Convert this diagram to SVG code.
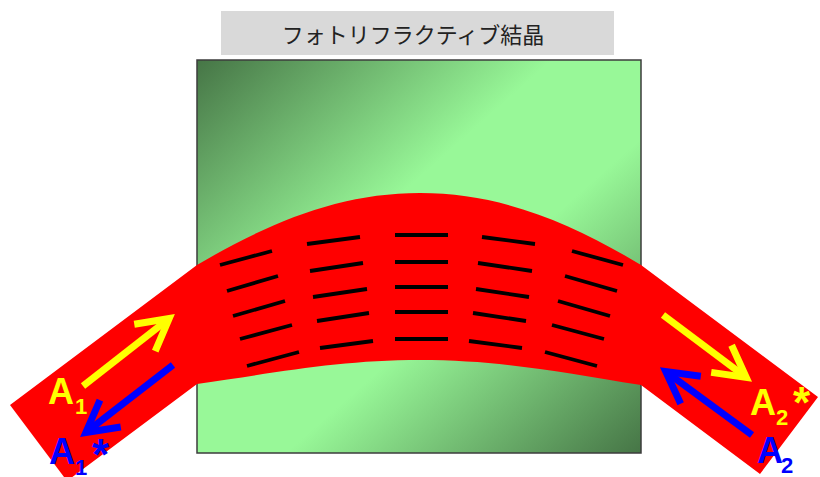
<svg xmlns="http://www.w3.org/2000/svg" width="820" height="477" viewBox="0 0 820 477">
  <defs>
    <linearGradient id="crystalFill" x1="0" y1="0" x2="1" y2="1">
      <stop offset="0" stop-color="#467546"/>
      <stop offset="0.4" stop-color="#98f898"/>
      <stop offset="0.6" stop-color="#98f898"/>
      <stop offset="1" stop-color="#467546"/>
    </linearGradient>
    <marker id="headYellow" viewBox="-45 -25 50 50" markerWidth="50" markerHeight="50" refX="-4" refY="0" orient="auto" markerUnits="userSpaceOnUse" overflow="visible">
      <path d="M-31,-17 L0,0 L-31,17" fill="none" stroke="#ffff00" stroke-width="7" stroke-linejoin="miter"/>
    </marker>
    <marker id="headBlue" viewBox="-45 -25 50 50" markerWidth="50" markerHeight="50" refX="-4" refY="0" orient="auto" markerUnits="userSpaceOnUse" overflow="visible">
      <path d="M-31,-17 L0,0 L-31,17" fill="none" stroke="#0000ff" stroke-width="7" stroke-linejoin="miter"/>
    </marker>
  </defs>
  <style>
    .title { font-family: "Noto Sans CJK JP", "Noto Sans", sans-serif; font-size: 22px; fill: #222222; }
    .grating { stroke: #000000; stroke-width: 3.8; stroke-linecap: butt; }
    .beam-y { fill: none; stroke: #ffff00; stroke-width: 7; marker-end: url(#headYellow); }
    .beam-b { fill: none; stroke: #0000ff; stroke-width: 7; marker-end: url(#headBlue); }
    .lbl { font-family: "Liberation Sans", Arial, sans-serif; font-weight: bold; font-size: 36px; }
    .lbl.sub { font-size: 22px; }
    .lbl.star { font-size: 44px; }
    .yel { fill: #ffff00; }
    .blu { fill: #0000ff; }
  </style>

  <rect width="820" height="477" fill="#ffffff"/>

  <!-- caption box -->
  <g id="title">
    <rect x="221" y="11" width="393" height="44" fill="#d9d9d9"/>
    <text class="title" x="413" y="43" text-anchor="middle">フォトリフラクティブ結晶</text>
  </g>

  <!-- crystal block -->
  <g id="crystal">
    <rect x="197" y="60" width="444" height="393" fill="url(#crystalFill)" stroke="#3c3c3c" stroke-width="1.5"/>
  </g>

  <!-- light beam bent through the crystal -->
  <g id="beam">
    <path d="M10,405 L197,265 C270,222 340,193 420,193 C500,193 570,222 641,265 L818,397 L760,474 L641,385 C560,372 500,360 420,360 C340,360 280,372 197,384 L67,481 Z" fill="#ff0000"/>
  </g>

  <!-- refractive-index grating -->
  <g id="gratings">
    <line class="grating" x1="220" y1="265" x2="272" y2="251"/>
    <line class="grating" x1="227" y1="291" x2="278" y2="276"/>
    <line class="grating" x1="233" y1="316" x2="285" y2="301"/>
    <line class="grating" x1="240" y1="339" x2="292" y2="325"/>
    <line class="grating" x1="247" y1="366" x2="299" y2="352"/>

    <line class="grating" x1="307" y1="244" x2="360" y2="237"/>
    <line class="grating" x1="310" y1="271" x2="363" y2="263"/>
    <line class="grating" x1="313" y1="297" x2="367" y2="289"/>
    <line class="grating" x1="317" y1="321" x2="369" y2="313"/>
    <line class="grating" x1="320" y1="348" x2="373" y2="341"/>

    <line class="grating" x1="395" y1="235" x2="448" y2="235"/>
    <line class="grating" x1="395" y1="262" x2="448" y2="262"/>
    <line class="grating" x1="395" y1="287" x2="448" y2="287"/>
    <line class="grating" x1="395" y1="312" x2="448" y2="312"/>
    <line class="grating" x1="395" y1="339" x2="448" y2="339"/>

    <line class="grating" x1="482" y1="237" x2="535" y2="244"/>
    <line class="grating" x1="478" y1="263" x2="532" y2="271"/>
    <line class="grating" x1="476" y1="289" x2="529" y2="297"/>
    <line class="grating" x1="473" y1="313" x2="526" y2="321"/>
    <line class="grating" x1="469" y1="341" x2="522" y2="348"/>

    <line class="grating" x1="572" y1="251" x2="623" y2="265"/>
    <line class="grating" x1="565" y1="276" x2="617" y2="291"/>
    <line class="grating" x1="558" y1="301" x2="610" y2="316"/>
    <line class="grating" x1="552" y1="325" x2="604" y2="339"/>
    <line class="grating" x1="545" y1="352" x2="597" y2="366"/>
  </g>

  <!-- wave arrows -->
  <g id="arrows">
    <path class="beam-y" d="M83,386 L166,321"/>
    <path class="beam-b" d="M173,365 L89,430"/>
    <path class="beam-y" d="M663,315 L743,375"/>
    <path class="beam-b" d="M752,435 L669,374"/>
  </g>

  <!-- wave labels -->
  <g id="label-A1">
    <text class="lbl yel" x="48" y="404">A</text>
    <text class="lbl sub yel" x="75" y="414">1</text>
  </g>
  <g id="label-A1-conj">
    <text class="lbl blu" x="49" y="464">A</text>
    <text class="lbl sub blu" x="75" y="475">1</text>
    <text class="lbl star blu" x="92" y="470">*</text>
  </g>
  <g id="label-A2-conj">
    <text class="lbl yel" x="750" y="415">A</text>
    <text class="lbl sub yel" x="776" y="425">2</text>
    <text class="lbl star yel" x="793" y="418">*</text>
  </g>
  <g id="label-A2">
    <text class="lbl blu" x="757" y="463">A</text>
    <text class="lbl sub blu" x="781" y="473">2</text>
  </g>
</svg>
